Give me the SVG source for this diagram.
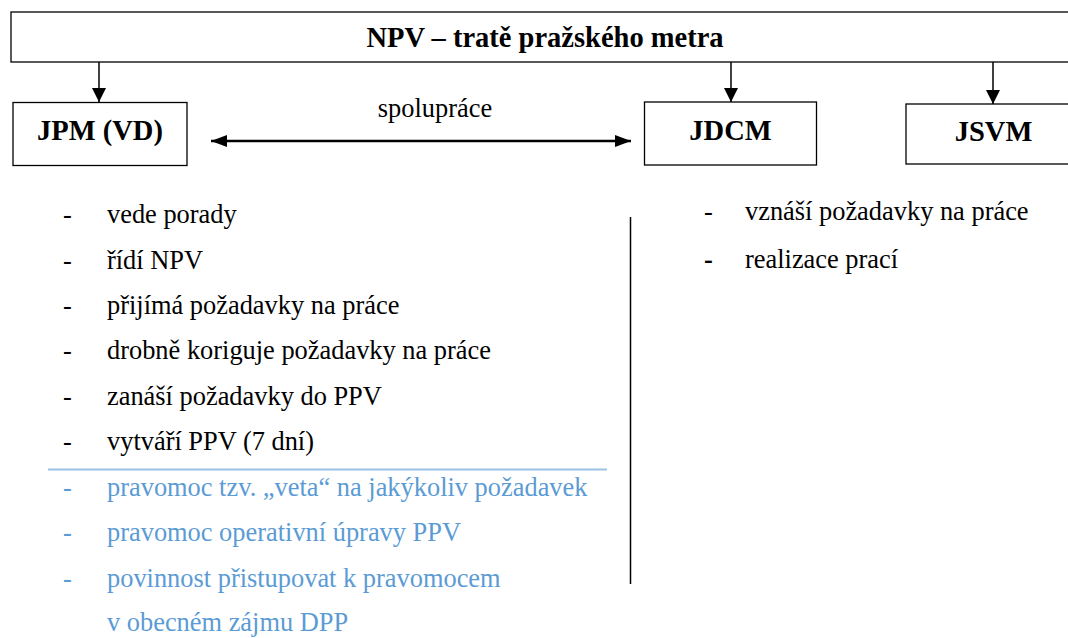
<svg xmlns="http://www.w3.org/2000/svg" width="1068" height="638" viewBox="0 0 1068 638">
<style>
  .box{fill:#fff;stroke:#000;stroke-width:1.3}
  .hd{font-family:'Liberation Serif','Times New Roman',serif;font-weight:bold;font-size:28.5px;fill:#000}
  .tx{font-family:'Liberation Serif','Times New Roman',serif;font-size:26.4px;fill:#000}
  .bl{fill:#5b9bd5}
  .ln{stroke:#000;stroke-width:1.5;fill:none}
</style>
<defs>
  <marker id="ah" markerWidth="14" markerHeight="14" refX="14" refY="7" orient="auto" markerUnits="userSpaceOnUse">
    <path d="M0,0 L14,7 L0,14 Z" fill="#000"/>
  </marker>
  <marker id="ah2" markerWidth="16" markerHeight="12" refX="16" refY="6" orient="auto-start-reverse" markerUnits="userSpaceOnUse">
    <path d="M0,0 L16,6 L0,12 Z" fill="#000"/>
  </marker>
</defs>
<rect width="1068" height="638" fill="#fff"/>
<g id="npv">
  <rect class="box" x="11" y="12" width="1070" height="50"/>
  <text class="hd" x="545" y="47" text-anchor="middle">NPV – tratě pražského metra</text>
</g>
<g id="jpm">
  <rect class="box" x="13" y="102.5" width="174" height="63"/>
  <text class="hd" x="100" y="140" text-anchor="middle">JPM (VD)</text>
</g>
<g id="jdcm">
  <rect class="box" x="644.5" y="102" width="172" height="63"/>
  <text class="hd" x="730.5" y="139.5" text-anchor="middle">JDCM</text>
</g>
<g id="jsvm">
  <rect class="box" x="906" y="104" width="180" height="60"/>
  <text class="hd" x="993.5" y="141" text-anchor="middle">JSVM</text>
</g>
<g id="connectors">
  <line class="ln" x1="99" y1="62" x2="99" y2="102" marker-end="url(#ah)"/>
  <line class="ln" x1="731" y1="62" x2="731" y2="102" marker-end="url(#ah)"/>
  <line class="ln" x1="993" y1="62" x2="993" y2="104" marker-end="url(#ah)"/>
  <line x1="211" y1="141" x2="631" y2="141" stroke="#000" stroke-width="2.5" marker-start="url(#ah2)" marker-end="url(#ah2)"/>
  <text class="tx" x="435" y="117" text-anchor="middle">spolupráce</text>
</g>
<g id="separators">
  <line x1="630.5" y1="217" x2="630.5" y2="584" stroke="#000" stroke-width="1.5"/>
  <line x1="48" y1="469.5" x2="607" y2="469.5" stroke="#9cc2e5" stroke-width="2"/>
</g>
<g id="jpm-list">
  <text class="tx" x="63" y="223">-</text><text class="tx" x="107" y="223">vede porady</text>
  <text class="tx" x="63" y="269">-</text><text class="tx" x="107" y="269">řídí NPV</text>
  <text class="tx" x="63" y="314">-</text><text class="tx" x="107" y="314">přijímá požadavky na práce</text>
  <text class="tx" x="63" y="359">-</text><text class="tx" x="107" y="359">drobně koriguje požadavky na práce</text>
  <text class="tx" x="63" y="405">-</text><text class="tx" x="107" y="405">zanáší požadavky do PPV</text>
  <text class="tx" x="63" y="450">-</text><text class="tx" x="107" y="450">vytváří PPV (7 dní)</text>
  <text class="tx bl" x="63" y="496">-</text><text class="tx bl" x="107" y="496">pravomoc tzv. „veta“ na jakýkoliv požadavek</text>
  <text class="tx bl" x="63" y="541">-</text><text class="tx bl" x="107" y="541">pravomoc operativní úpravy PPV</text>
  <text class="tx bl" x="63" y="587">-</text><text class="tx bl" x="107" y="587">povinnost přistupovat k pravomocem</text>
  <text class="tx bl" x="107" y="631">v obecném zájmu DPP</text>
</g>
<g id="jdcm-list">
  <text class="tx" x="704" y="220">-</text><text class="tx" x="745" y="220">vznáší požadavky na práce</text>
  <text class="tx" x="704" y="268" font-weight="bold">-</text><text class="tx" x="745" y="268">realizace prací</text>
</g>
</svg>
